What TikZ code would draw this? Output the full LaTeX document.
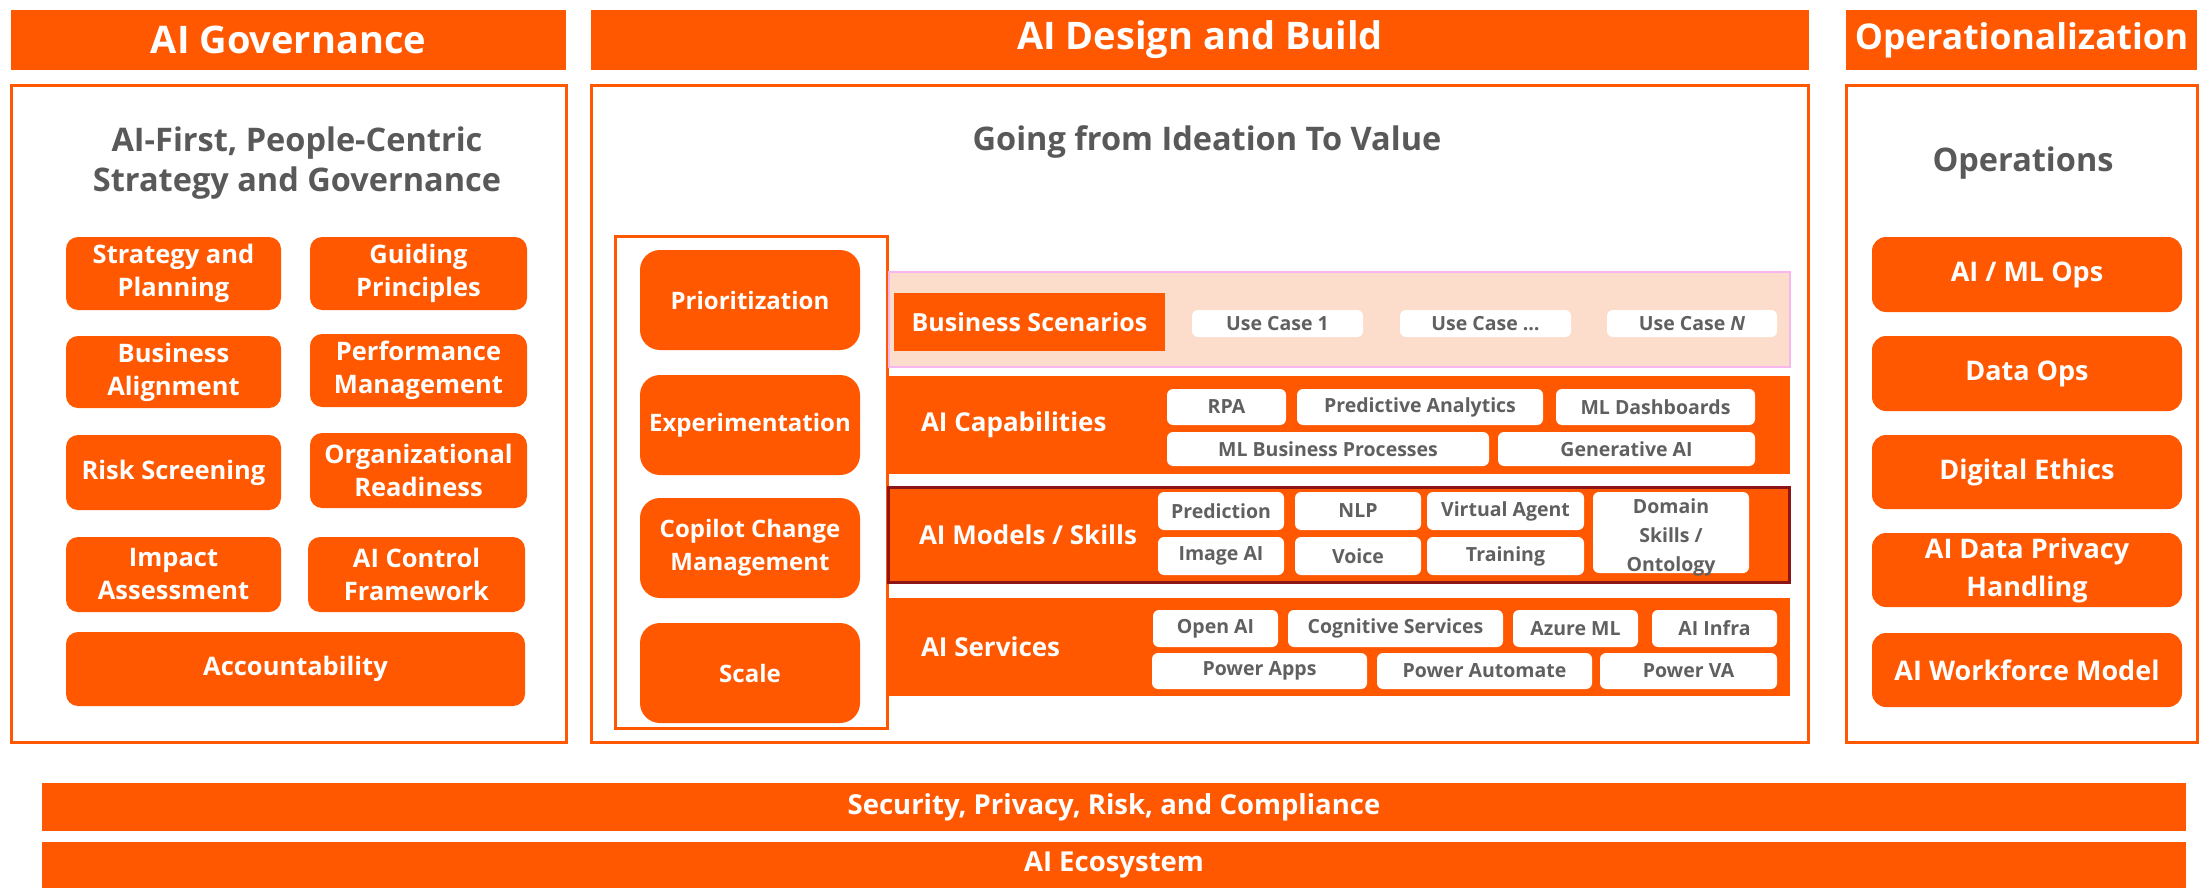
\documentclass[tikz,border=0pt]{standalone}
\usepackage{fontspec}
\setmainfont{Open Sans}
\definecolor{brand}{RGB}{255,88,0}
\definecolor{titlegray}{RGB}{89,89,89}
\definecolor{chipgray}{RGB}{96,96,96}
\definecolor{peach}{RGB}{252,221,203}
\definecolor{pinkline}{RGB}{247,182,240}
\definecolor{darkred}{RGB}{140,22,22}

% place a node by its corner coordinates (x1,y1)-(x2,y2), y pointing down
\newcommand{\boxnode}[7]{%
  \node[#6, minimum width={#4-#2}, minimum height={#5-#3}] (#1)
    at ({(#2+#4)/2},{(#3+#5)/2}) {#7};}

\tikzset{
  every node/.style={inner sep=0pt, outer sep=0pt, align=center},
  header/.style={fill=brand, text=white, font=\bfseries\fontsize{38}{44}\selectfont},
  panel/.style={draw=brand, line width=3pt, fill=white},
  paneltitle/.style={text=titlegray, font=\bfseries\fontsize{32.5}{40}\selectfont},
  govbox/.style={fill=brand, rounded corners=12pt, text=white, font=\bfseries\fontsize{25.5}{33}\selectfont},
  procframe/.style={draw=brand, line width=3pt, fill=white},
  procbox/.style={fill=brand, rounded corners=20pt, text=white, font=\bfseries\fontsize{24}{33}\selectfont},
  scenband/.style={fill=peach, draw=pinkline, line width=2.5pt},
  band/.style={fill=brand},
  modelband/.style={fill=brand, draw=darkred, line width=3pt},
  bandlabel/.style={anchor=west, text=white, font=\bfseries\fontsize{26}{32}\selectfont},
  scenlabel/.style={fill=brand, text=white, font=\bfseries\fontsize{25}{32}\selectfont},
  chipfont/.style={text=chipgray, font=\bfseries\fontsize{19.5}{29}\selectfont},
  chip/.style={fill=white, rounded corners=6pt, chipfont},
  opsbox/.style={fill=brand, rounded corners=14pt, text=white, font=\bfseries\fontsize{27}{38}\selectfont},
  baseband/.style={fill=brand, text=white, font=\bfseries\fontsize{27.5}{32}\selectfont},
}

\begin{document}
\begin{tikzpicture}[x=1pt,y=-1pt]
\useasboundingbox (0,0) rectangle (2201,888);

% ---- column headers
\boxnode{hGov}{11}{10}{566}{70}{header}{AI Governance}
\boxnode{hDes}{591}{10}{1809}{70}{header}{AI Design and Build}
\boxnode{hOps}{1846}{10}{2197}{70}{header, font=\bfseries\fontsize{35.5}{42}\selectfont}{Operationalization}

% ---- column panels
\boxnode{pGov}{11}{86}{566}{742}{panel}{}
\boxnode{pDes}{591}{86}{1808}{742}{panel}{}
\boxnode{pOps}{1846}{86}{2197}{742}{panel}{}

% ---- governance column
\node[paneltitle] (tGov) at (297,163) {AI-First, People-Centric\\Strategy and Governance};
\boxnode{g1}{66}{237}{281}{310}{govbox}{Strategy and\\Planning}
\boxnode{g2}{310}{237}{527}{310}{govbox}{Guiding\\Principles}
\boxnode{g3}{66}{336}{281}{408}{govbox}{Business\\Alignment}
\boxnode{g4}{310}{334}{527}{407}{govbox}{Performance\\Management}
\boxnode{g5}{66}{435}{281}{510}{govbox}{Risk Screening}
\boxnode{g6}{310}{433}{527}{508}{govbox}{Organizational\\Readiness}
\boxnode{g7}{66}{537}{281}{612}{govbox}{Impact\\Assessment}
\boxnode{g8}{308}{537}{525}{612}{govbox}{AI Control\\Framework}
\boxnode{g9}{66}{632}{525}{706}{govbox}{Accountability}

% ---- design and build column
\node[paneltitle] (tDes) at (1207,142) {Going from Ideation To Value};
\boxnode{frame}{615}{236}{887}{728}{procframe}{}
\boxnode{s1}{640}{250}{860}{350}{procbox}{Prioritization}
\boxnode{s2}{640}{375}{860}{475}{procbox}{Experimentation}
\boxnode{s3}{640}{498}{860}{598}{procbox}{Copilot Change\\Management}
\boxnode{s4}{640}{623}{860}{723}{procbox}{Scale}

% business scenarios layer
\boxnode{lScen}{889}{272}{1790}{367}{scenband}{}
\boxnode{scen}{894}{293}{1165}{351}{scenlabel}{Business Scenarios}
\boxnode{uc1}{1192}{310}{1363}{337}{chip}{Use Case 1}
\boxnode{uc2}{1400}{310}{1571}{337}{chip}{Use Case \dots}
\boxnode{uc3}{1607}{310}{1777}{337}{chip}{Use Case \textit{N}}

% capabilities layer
\boxnode{lCap}{889}{376}{1790}{474}{band}{}
\node[bandlabel] (cap) at (921,425) {AI Capabilities};
\boxnode{c1}{1167}{389}{1286}{425}{chip}{RPA}
\boxnode{c2}{1297}{389}{1543}{425}{chip}{Predictive Analytics}
\boxnode{c3}{1556}{389}{1755}{425}{chip}{ML Dashboards}
\boxnode{c4}{1167}{432}{1489}{466}{chip}{ML Business Processes}
\boxnode{c5}{1498}{432}{1755}{466}{chip}{Generative AI}

% models and skills layer
\boxnode{lMod}{888}{487}{1789}{582}{modelband}{}
\node[bandlabel] (mod) at (919,535) {AI Models / Skills};
\boxnode{m1}{1158}{492}{1284}{530}{chip}{Prediction}
\boxnode{m2}{1295}{492}{1421}{530}{chip}{NLP}
\boxnode{m3}{1427}{492}{1584}{530}{chip}{Virtual Agent}
\boxnode{m4}{1158}{537}{1284}{575}{chip}{Image AI}
\boxnode{m5}{1295}{537}{1421}{575}{chip}{Voice}
\boxnode{m6}{1427}{537}{1584}{575}{chip}{Training}
\boxnode{m7}{1593}{492}{1749}{573}{chip}{}
\node[chipfont, anchor=north] (m7t) at (1671,499) {Domain\\Skills /\\Ontology};

% services layer
\boxnode{lSrv}{889}{598}{1790}{696}{band}{}
\node[bandlabel] (srv) at (921,647) {AI Services};
\boxnode{v1}{1153}{610}{1278}{647}{chip}{Open AI}
\boxnode{v2}{1288}{610}{1503}{647}{chip}{Cognitive Services}
\boxnode{v3}{1513}{610}{1638}{647}{chip}{Azure ML}
\boxnode{v4}{1652}{610}{1777}{647}{chip}{AI Infra}
\boxnode{v5}{1152}{653}{1367}{689}{chip}{Power Apps}
\boxnode{v6}{1377}{653}{1592}{689}{chip}{Power Automate}
\boxnode{v7}{1600}{653}{1777}{689}{chip}{Power VA}

% ---- operationalization column
\node[paneltitle] (tOps) at (2023,163) {Operations};
\boxnode{o1}{1872}{237}{2182}{312}{opsbox}{AI / ML Ops}
\boxnode{o2}{1872}{336}{2182}{411}{opsbox}{Data Ops}
\boxnode{o3}{1872}{435}{2182}{509}{opsbox}{Digital Ethics}
\boxnode{o4}{1872}{533}{2182}{607}{opsbox}{AI Data Privacy\\Handling}
\boxnode{o5}{1872}{633}{2182}{707}{opsbox}{AI Workforce Model}

% ---- foundation bands
\boxnode{f1}{42}{783}{2186}{831}{baseband}{Security, Privacy, Risk, and Compliance}
\boxnode{f2}{42}{842}{2186}{888}{baseband}{AI Ecosystem}
\end{tikzpicture}
\end{document}
